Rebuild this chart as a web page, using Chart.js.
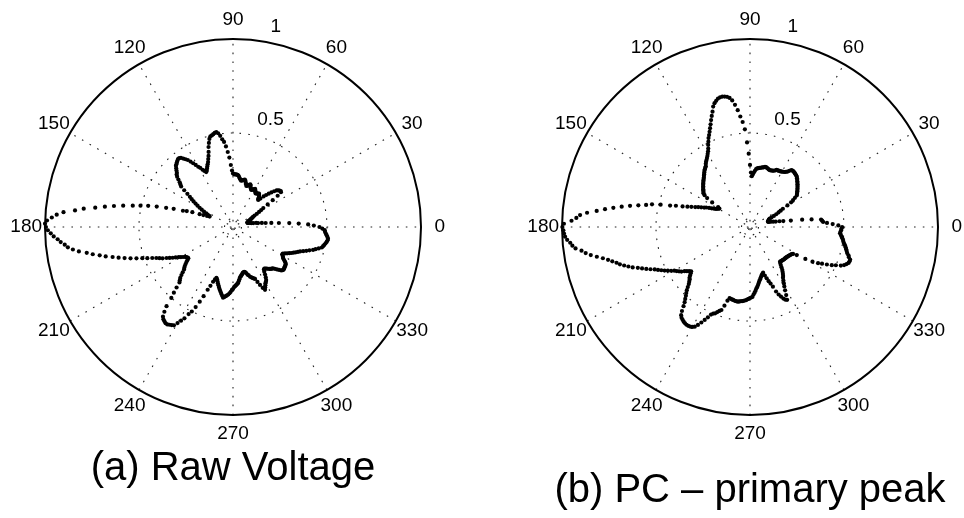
<!DOCTYPE html>
<html>
<head>
<meta charset="utf-8">
<script src="https://cdn.jsdelivr.net/npm/chart.js@4.4.1/dist/chart.umd.min.js"></script>
<style>
  body { margin: 0; background: #fff; width: 964px; height: 518px; overflow: hidden; position: relative;
         font-family: "Liberation Sans", Arial, sans-serif; }
  canvas { position: absolute; top: 0; }
  .cap { position: absolute; font-size: 40px; line-height: 40px; text-align: center; white-space: nowrap; color: #000; }
</style>
</head>
<body>
<canvas id="polarA" width="482" height="518" style="left:0"></canvas>
<canvas id="polarB" width="482" height="518" style="left:482px"></canvas>
<div class="cap" id="capA" style="left:0; width:466px; top:446px"></div>
<div class="cap" id="capB" style="left:500px; width:500px; top:468px"></div>
<script>
// angle of each sample, degrees (one sample per degree)
const angles = Array.from({length: 360}, (_, i) => i);

// (a) raw voltage, normalised magnitude per degree
const rawVoltage = [
  .46,.43,.40,.35,.30,.245,.205,.175,.155,.135,
  .125,.11,.10,.095,.088,.082,.08,.08,.082,.085,
  .088,.09,.095,.10,.105,.11,.115,.12,.13,.145,
  .16,.175,.19,.22,.255,.29,.315,.318,.315,.31,
  .303,.29,.275,.26,.245,.23,.21,.197,.20,.21,
  .215,.22,.225,.222,.22,.218,.215,.22,.225,.23,
  .235,.23,.225,.222,.22,.225,.23,.24,.245,.24,
  .235,.232,.23,.238,.245,.255,.26,.258,.255,.252,
  .25,.255,.26,.268,.275,.278,.28,.28,.28,.282,
  .285,.30,.33,.37,.40,.43,.455,.47,.49,.505,
  .512,.51,.505,.50,.497,.485,.465,.445,.42,.40,
  .385,.37,.36,.35,.34,.33,.325,.335,.345,.36,
  .37,.385,.40,.415,.43,.44,.45,.46,.465,.465,
  .46,.455,.45,.445,.435,.425,.415,.41,.40,.385,
  .37,.36,.35,.325,.30,.28,.265,.25,.235,.22,
  .205,.19,.175,.16,.15,.14,.136,.15,.17,.19,
  .23,.26,.28,.33,.37,.42,.465,.505,.545,.595,
  .643,.69,.74,.80,.845,.905,.94,.965,.99,1.0,
  .995,.985,.97,.955,.935,.92,.90,.885,.86,.83,
  .79,.76,.725,.695,.66,.63,.60,.57,.54,.51,
  .485,.46,.44,.425,.41,.39,.375,.36,.345,.33,
  .32,.31,.30,.295,.29,.29,.30,.31,.32,.33,
  .338,.345,.36,.375,.39,.40,.41,.44,.47,.50,
  .55,.58,.605,.615,.62,.625,.625,.62,.615,.61,
  .59,.57,.55,.52,.50,.47,.435,.40,.36,.335,
  .31,.295,.285,.29,.30,.31,.32,.33,.34,.35,
  .36,.37,.38,.375,.37,.365,.36,.353,.345,.335,
  .33,.32,.315,.31,.305,.30,.29,.28,.27,.265,
  .26,.255,.25,.248,.246,.248,.255,.265,.27,.28,
  .285,.29,.295,.30,.32,.34,.36,.375,.365,.355,
  .345,.34,.333,.32,.305,.29,.28,.277,.28,.285,
  .29,.295,.30,.303,.306,.315,.325,.335,.345,.35,
  .352,.35,.348,.346,.345,.343,.335,.325,.315,.31,
  .305,.30,.30,.31,.32,.33,.34,.35,.36,.37,
  .38,.395,.41,.425,.443,.455,.47,.485,.49,.495,
  .50,.505,.508,.509,.505,.50,.495,.49,.488,.475
];

// (b) PC - primary peak, normalised magnitude per degree
const pcPrimary = [
  .49,.47,.44,.41,.39,.385,.38,.33,.28,.22,
  .18,.16,.14,.127,.115,.105,.10,.10,.102,.104,
  .106,.108,.11,.114,.125,.14,.155,.17,.185,.20,
  .23,.255,.27,.285,.30,.305,.31,.315,.32,.325,
  .33,.335,.34,.345,.35,.355,.36,.365,.368,.37,
  .372,.374,.375,.376,.374,.365,.355,.35,.345,.343,
  .34,.338,.337,.336,.335,.335,.33,.325,.323,.322,
  .321,.32,.322,.325,.327,.33,.33,.326,.324,.322,
  .32,.318,.316,.314,.31,.30,.29,.28,.27,.29,
  .33,.39,.45,.52,.56,.59,.625,.655,.68,.695,
  .703,.707,.709,.708,.704,.695,.685,.67,.645,.625,
  .605,.585,.567,.55,.535,.522,.505,.49,.473,.46,
  .45,.44,.432,.425,.418,.41,.40,.395,.39,.385,
  .378,.372,.366,.36,.355,.35,.345,.34,.335,.33,
  .325,.32,.315,.31,.306,.295,.275,.24,.20,.19,
  .195,.20,.205,.215,.227,.24,.255,.265,.28,.295,
  .31,.33,.35,.375,.41,.44,.49,.535,.565,.605,
  .648,.691,.734,.777,.82,.87,.906,.925,.95,.99,
  .998,.993,.99,.985,.975,.96,.95,.935,.905,.885,
  .86,.83,.80,.775,.755,.735,.72,.70,.68,.66,
  .635,.615,.595,.575,.555,.54,.525,.51,.495,.48,
  .465,.455,.445,.435,.42,.41,.40,.392,.40,.41,
  .42,.425,.435,.445,.46,.475,.488,.50,.515,.53,
  .55,.575,.595,.605,.61,.615,.618,.62,.62,.618,
  .614,.606,.59,.57,.55,.53,.51,.50,.495,.485,
  .475,.467,.44,.41,.394,.395,.397,.398,.40,.401,
  .402,.402,.40,.398,.396,.394,.392,.389,.385,.382,
  .378,.375,.372,.36,.35,.34,.328,.32,.31,.30,
  .29,.283,.275,.268,.262,.257,.253,.27,.287,.305,
  .32,.34,.37,.39,.405,.42,.43,.435,.41,.385,
  .365,.35,.335,.322,.315,.305,.295,.285,.272,.26,
  .25,.244,.245,.246,.247,.248,.249,.25,.25,.251,
  .252,.253,.255,.256,.258,.26,.262,.265,.27,.29,
  .34,.38,.41,.43,.455,.48,.50,.525,.54,.55,
  .558,.56,.56,.55,.545,.535,.53,.525,.52,.515,
  .508,.503,.50,.495,.49,.485,.48,.482,.485,.487
];

const angleLabels = ['0','30','60','90','120','150','180','210','240','270','300','330'];
const radiusTicks = [0.5, 1];
const gridRings = [0.045, 0.5];
const titles = ['(a) Raw Voltage', '(b) PC \u2013 primary peak'];

document.getElementById('capA').textContent = titles[0];
document.getElementById('capB').textContent = titles[1];

// polar grid drawn like a matlab polar() frame
const polarFrame = {
    id: 'polarFrame',
    beforeDatasetsDraw(chart) {
        const ctx = chart.ctx;
        const xs = chart.scales.x, ys = chart.scales.y;
        const cx = xs.getPixelForValue(0), cy = ys.getPixelForValue(0);
        const R = xs.getPixelForValue(1) - cx;
        ctx.save();

        // dotted spokes every 30 deg
        ctx.strokeStyle = '#222';
        ctx.lineWidth = 1.1;
        ctx.setLineDash([1.6, 7.2]);
        for (let k = 0; k < 6; k++) {
            const t = k * 30 * Math.PI / 180;
            ctx.beginPath();
            ctx.moveTo(cx - R * Math.cos(t), cy + R * Math.sin(t));
            ctx.lineTo(cx + R * Math.cos(t), cy - R * Math.sin(t));
            ctx.stroke();
        }
        gridRings.forEach(function (g) {
            ctx.beginPath();
            ctx.arc(cx, cy, g * R, 0, 2 * Math.PI);
            ctx.stroke();
        });

        // solid outer circle
        ctx.setLineDash([]);
        ctx.strokeStyle = '#000';
        ctx.lineWidth = 2;
        ctx.beginPath();
        ctx.arc(cx, cy, R, 0, 2 * Math.PI);
        ctx.stroke();

        // angle labels
        ctx.fillStyle = '#000';
        ctx.font = '19px "Liberation Sans", Arial, sans-serif';
        ctx.textAlign = 'center';
        ctx.textBaseline = 'middle';
        angleLabels.forEach(function (lab, i) {
            const t = i * 30 * Math.PI / 180;
            ctx.fillText(lab, cx + 1.1 * R * Math.cos(t), cy - 1.1 * R * Math.sin(t));
        });

        // radius labels at 82 deg
        ctx.textAlign = 'left';
        ctx.textBaseline = 'bottom';
        const t82 = 82 * Math.PI / 180;
        const pad = ctx.measureText('  ').width;
        radiusTicks.forEach(function (v) {
            const rr = (v + 0.025) * R;
            ctx.fillText(String(v), cx + rr * Math.cos(t82) + pad, cy - rr * Math.sin(t82));
        });
        ctx.restore();
    }
};

function makePolar(id, radii, padding) {
    const pts = angles.map(function (a, i) {
        const t = a * Math.PI / 180;
        return { x: radii[i] * Math.cos(t), y: radii[i] * Math.sin(t) };
    });
    return new Chart(document.getElementById(id), {
        type: 'scatter',
        data: {
            datasets: [{
                data: pts,
                backgroundColor: '#000',
                borderColor: '#000',
                borderWidth: 0,
                pointRadius: 2.1,
                clip: false
            }]
        },
        options: {
            responsive: false,
            animation: false,
            events: [],
            layout: { padding: padding },
            plugins: { legend: { display: false }, tooltip: { enabled: false } },
            scales: {
                x: { type: 'linear', min: -1, max: 1, display: false },
                y: { type: 'linear', min: -1, max: 1, display: false }
            }
        },
        plugins: [polarFrame]
    });
}

makePolar('polarA', rawVoltage, { left: 45, right: 61, top: 39, bottom: 103 });
makePolar('polarB', pcPrimary, { left: 80, right: 26, top: 39, bottom: 103 });
</script>
</body>
</html>
